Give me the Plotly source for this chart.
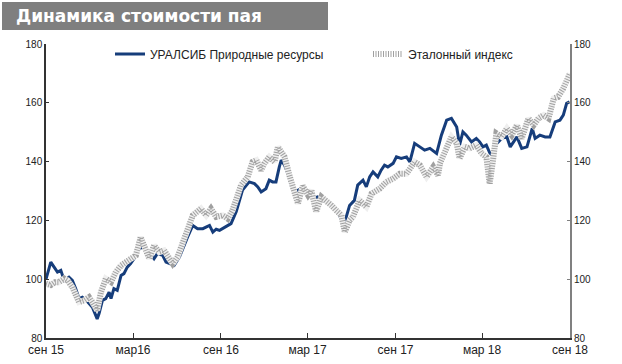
import plotly.graph_objects as go

fund_dates = ["2015-09-01","2015-09-11","2015-09-18","2015-09-25","2015-10-02","2015-10-09","2015-10-19","2015-10-26",
"2015-11-02","2015-11-09","2015-11-16","2015-11-26","2015-12-07","2015-12-17","2015-12-21","2015-12-28",
"2016-01-04","2016-01-11","2016-01-15","2016-01-21","2016-01-28","2016-02-05","2016-02-11","2016-02-18","2016-02-25",
"2016-03-03","2016-03-14","2016-03-24","2016-04-04","2016-04-14","2016-04-21","2016-05-02","2016-05-09","2016-05-19",
"2016-05-26","2016-06-06","2016-06-13","2016-06-23","2016-07-04","2016-07-14","2016-07-25","2016-08-01","2016-08-08",
"2016-08-15","2016-08-22","2016-08-29","2016-09-12","2016-09-22","2016-10-03","2016-10-10","2016-10-16","2016-10-30",
"2016-11-10","2016-11-17","2016-11-24","2016-12-04","2016-12-11","2016-12-18","2016-12-25","2017-01-01","2017-01-05",
"2017-01-12","2017-01-19","2017-01-26","2017-02-02","2017-02-16","2017-02-26","2017-03-12","2017-03-22","2017-04-02",
"2017-04-16","2017-04-27","2017-05-07","2017-05-14","2017-05-18","2017-05-28","2017-06-07","2017-06-14","2017-06-25",
"2017-07-02","2017-07-09","2017-07-16","2017-07-26","2017-08-02","2017-08-09","2017-08-16","2017-08-27","2017-09-03",
"2017-09-13","2017-09-24","2017-10-01","2017-10-11","2017-10-22","2017-11-01","2017-11-12","2017-11-26","2017-12-06",
"2017-12-17","2017-12-27","2018-01-07","2018-01-13","2018-01-20","2018-01-27","2018-02-07","2018-02-17","2018-02-24",
"2018-03-03","2018-03-10","2018-03-17","2018-03-24","2018-03-31","2018-04-11","2018-04-22","2018-04-29","2018-05-13",
"2018-05-23","2018-06-03","2018-06-14","2018-06-20","2018-06-30","2018-07-11","2018-07-21","2018-08-01","2018-08-11",
"2018-08-18","2018-08-25","2018-08-31"]
fund_values = [100,105.8,104.1,102.4,103,99.6,100.7,99.6,
96.8,93.4,93.9,92.5,90.5,86.5,88.3,92.8,
93.4,95.6,93.4,96.8,96.2,101.3,101.9,104.1,105.3,
107,110.4,111,109,107,108.7,108.1,105.8,105.3,
104.7,107.5,110.4,114.3,118.3,117.2,117.2,117.8,118.3,
116,117,116.6,117.8,118.9,123,127,130.3,133.1,
132.5,131.4,129.7,130.8,133.7,133.1,133.1,138.2,140.5,
138.8,135.9,132,129.7,130.8,130.3,127.4,128,126.8,
125.7,124,121.7,118.9,119.5,125.1,126.8,132,133.7,
131.4,134.8,136.5,134.8,137.1,138.8,138.2,139.4,141.6,
141.1,141.6,139.9,146.2,145,143.9,144.5,142.8,149,
154.1,154.7,151.8,145.6,150.1,149,146.7,147.9,146.7,
145,145.6,143,141.8,146,147.9,148.4,145,148.4,
144.5,145,151.3,147.9,149,148.4,148.4,153.5,154.1,
155.8,159.8,160.3]

bench_dates = ["2015-09-01","2015-09-11","2015-09-20","2015-09-28","2015-10-09","2015-10-16","2015-10-26","2015-11-02",
"2015-11-09","2015-11-20","2015-11-30","2015-12-07","2015-12-17","2015-12-25","2016-01-04","2016-01-15","2016-01-25",
"2016-02-05","2016-02-15","2016-02-25","2016-03-07","2016-03-17","2016-03-28","2016-04-04","2016-04-14","2016-04-25",
"2016-05-05","2016-05-16","2016-05-23","2016-06-02","2016-06-13","2016-06-23","2016-07-04","2016-07-21","2016-08-01",
"2016-08-11","2016-08-22","2016-09-05","2016-09-15","2016-09-25","2016-10-06","2016-10-13","2016-10-27","2016-11-06",
"2016-11-14","2016-11-24","2016-12-01","2016-12-11","2016-12-22","2016-12-29","2017-01-05","2017-01-12","2017-01-22",
"2017-02-02","2017-02-09","2017-02-19","2017-03-02","2017-03-09","2017-03-19","2017-03-30","2017-04-09","2017-04-20",
"2017-04-30","2017-05-11","2017-05-18","2017-05-28","2017-06-04","2017-06-18","2017-07-02","2017-07-13","2017-07-30",
"2017-08-13","2017-08-27","2017-09-10","2017-09-24","2017-10-11","2017-10-22","2017-11-05","2017-11-19","2017-11-29",
"2017-12-03","2017-12-17","2017-12-27","2018-01-07","2018-01-13","2018-01-24","2018-02-03","2018-02-17","2018-02-28",
"2018-03-10","2018-03-17","2018-03-24","2018-03-31","2018-04-11","2018-04-22","2018-05-02","2018-05-13","2018-05-23",
"2018-06-06","2018-06-17","2018-06-27","2018-07-08","2018-07-18","2018-07-29","2018-08-07","2018-08-18","2018-08-25",
"2018-09-01"]
bench_values = [98.5,98,99,99,100.2,99.6,97.3,94.5,
92.2,92.8,93.9,92.2,89.4,95.6,100.2,99,102.4,
104.7,105.8,106.4,108.1,114.3,109.8,107,111.5,109.2,
109.8,106.4,105.3,107.5,112.1,116,121.7,124,121.7,
124,121.2,121.7,120.6,123.4,128.6,132,134.8,139.9,
140.5,137.1,139.4,141.6,139.9,145,143.3,141.6,135.4,
130.3,125.7,131.7,128.6,130.3,122.9,128,126.8,125.1,
123.4,121.7,116,120,121.2,126.8,124.6,129.1,130.8,
133.1,134.2,135.9,135.9,139.9,138.8,134.8,138.2,135.4,
139.4,145,148.4,146.2,141.1,145,144.5,145.6,142.8,
141.6,132.5,140.5,149.6,148.4,151.3,149,152.4,147.9,
154.7,152.4,154.7,155.8,154.7,161.5,162,164.9,167.7,
170]

tick_dates = ["2015-09-01","2016-03-01","2016-09-01","2017-03-01","2017-09-01","2018-03-01","2018-09-01"]
tick_labels = ["сен 15","мар16","сен 16","мар 17","сен 17","мар 18","сен 18"]
y_ticks = [80,100,120,140,160,180]

FONT = "Liberation Sans, Arial, sans-serif"
BLUE = "#163d7b"

fig = go.Figure()
fig.add_trace(go.Scatter(x=fund_dates, y=fund_values, mode="lines", name="УРАЛСИБ Природные ресурсы",
                         line=dict(color=BLUE, width=3), yaxis="y", legend="legend"))
fig.add_trace(go.Scatter(x=bench_dates, y=bench_values, mode="lines", name="Эталонный индекс",
                         showlegend=False, line=dict(color="#efefef", width=6), yaxis="y2"))
fig.add_trace(go.Scatter(x=bench_dates, y=bench_values, mode="lines", name="Эталонный индекс",
                         line=dict(color="#a0a0a0", width=6, dash="1px,1.5px"), yaxis="y2", legend="legend2"))

axis_common = dict(range=[80, 180], tickvals=y_ticks, ticks="inside", ticklen=3,
                   tickfont=dict(size=10, color="#222", family=FONT), showgrid=False, zeroline=False,
                   showline=True, automargin=False)
leg_common = dict(orientation="h", yanchor="middle", xanchor="left", y=(338 - 54) / 294,
                  font=dict(size=12, color="#222", family=FONT), bgcolor="rgba(0,0,0,0)",
                  itemwidth=30, borderwidth=0)
fig.update_layout(
    width=622, height=364,
    margin=dict(l=46, r=52, t=44, b=26, autoexpand=False),
    paper_bgcolor="white", plot_bgcolor="white",
    font=dict(family=FONT),
    xaxis=dict(type="date", range=["2015-09-01", "2018-09-01"], tickvals=tick_dates, ticktext=tick_labels,
               ticks="inside", ticklen=5, tickcolor="#333", showgrid=False, zeroline=False,
               showline=True, linecolor="#333", linewidth=1.5, automargin=False,
               tickfont=dict(size=12, color="#222", family=FONT)),
    yaxis=dict(**axis_common, side="left", linecolor="#333", linewidth=1.5, tickcolor="#333"),
    yaxis2=dict(**axis_common, side="right", overlaying="y", linecolor="#808080", linewidth=2,
                tickcolor="#808080"),
    legend=dict(**leg_common, x=(110 - 46) / 524),
    legend2=dict(**leg_common, x=(368 - 46) / 524),
    showlegend=True,
)

fig.add_shape(type="rect", xref="paper", yref="paper",
              x0=(2 - 46) / 524, x1=(328 - 46) / 524, y0=(338 - 30) / 294, y1=(338 - 2) / 294,
              fillcolor="#7f7f7f", line=dict(width=0), layer="above")
fig.add_annotation(text="<b>Динамика стоимости пая</b>", xref="paper", yref="paper",
                   x=(14 - 46) / 524, y=(338 - 16) / 294, xanchor="left", yanchor="middle",
                   showarrow=False, font=dict(size=17, color="white", family="DejaVu Sans, sans-serif"))

fig.write_html("out.html", config={"displayModeBar": False},
               post_script="document.body.style.margin='0';")
